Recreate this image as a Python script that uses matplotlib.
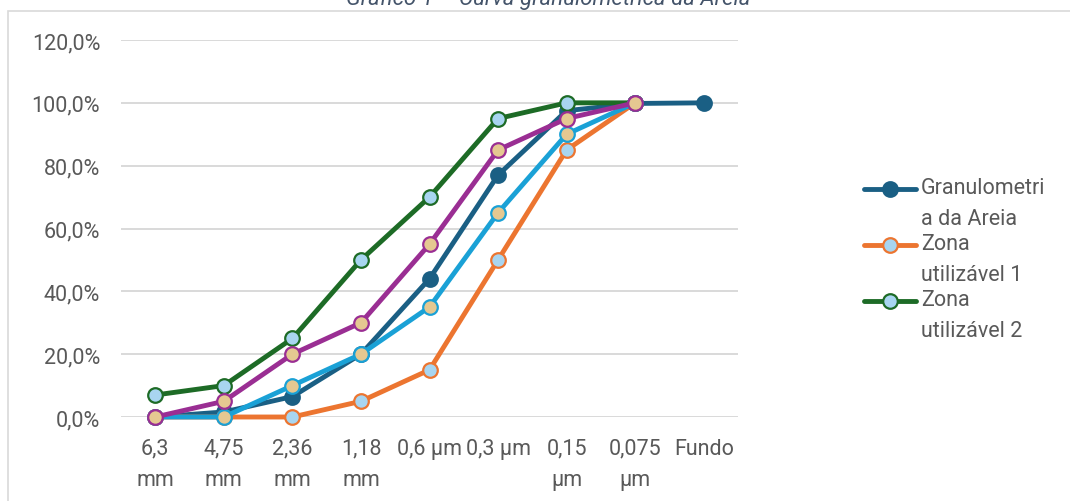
import matplotlib
matplotlib.use("Agg")
import matplotlib.pyplot as plt
from matplotlib.lines import Line2D
from matplotlib.patches import Rectangle
from matplotlib.ticker import FuncFormatter

# Sieve openings (x categories)
categories = ["6,3\nmm", "4,75\nmm", "2,36\nmm", "1,18\nmm", "0,6 µm",
              "0,3 µm", "0,15\nµm", "0,075\nµm", "Fundo"]

# Cumulative % retained
granulometria = [0.0, 1.6, 6.5, 20.0, 44.0, 77.0, 97.5, 99.8, 100.0]
zona_util_1 = [0.0, 0.0, 0.0, 5.0, 15.0, 50.0, 85.0, 100.0]
zona_util_2 = [7.0, 10.0, 25.0, 50.0, 70.0, 95.0, 100.0, 100.0]
zona_otima_1 = [0.0, 0.0, 10.0, 20.0, 35.0, 65.0, 90.0, 100.0]
zona_otima_2 = [0.0, 5.0, 20.0, 30.0, 55.0, 85.0, 95.0, 100.0]

yticks = [0, 20, 40, 60, 80, 100, 120]

TEXT = "#595959"
GRID = "#D9D9D9"
LIGHTBLUE = "#A8D5F0"
TAN = "#E5C891"
FS = 15.5

plt.rcParams["font.family"] = ["Roboto", "DejaVu Sans"]

fig = plt.figure(figsize=(10.70, 5.02), dpi=100)
ax = fig.add_axes([121 / 1070, (502 - 418) / 502, 617 / 1070, 377 / 502])

# chart border (box runs off the right and bottom edges)
fig.patches.append(Rectangle((8 / 1070, -0.05), 1.2, 1 - 12 / 502 + 0.05,
                             transform=fig.transFigure, fill=False,
                             edgecolor="#D9D9D9", linewidth=1.2, zorder=0))
fig.text(548 / 1070, 1 - 5 / 502, "Gráfico 1 – Curva granulométrica da Areia",
         ha="center", va="baseline", fontsize=16, style="italic", color="#44546A")

series = [
    ("Granulometria da Areia", granulometria, "#1A5F84", "#1A5F84"),
    ("Zona utilizável 1", zona_util_1, "#EC7530", LIGHTBLUE),
    ("Zona utilizável 2", zona_util_2, "#1D6B26", LIGHTBLUE),
    ("Zona ótima 1", zona_otima_1, "#1AA1D6", TAN),
    ("Zona ótima 2", zona_otima_2, "#9A2E93", TAN),
]

for i, (name, vals, color, face) in enumerate(series):
    x = list(range(len(vals)))
    ax.plot(x, vals, color=color, linewidth=3.5, marker="o", markersize=10.5,
            markerfacecolor=face, markeredgecolor=color, markeredgewidth=1.6,
            solid_capstyle="round", clip_on=False, zorder=3 + i, label=name)

ax.set_xlim(-0.5, len(categories) - 0.5)
ax.set_ylim(0, 120)
ax.set_yticks(yticks)
ax.yaxis.set_major_formatter(FuncFormatter(lambda v, p: f"{v:.1f}%".replace(".", ",")))
ax.set_xticks(range(len(categories)))
ax.set_xticklabels(categories, linespacing=1.65, va="top")
ax.tick_params(axis="both", length=0, labelsize=FS, labelcolor=TEXT)
ax.tick_params(axis="x", pad=15)
ax.tick_params(axis="y", pad=15)
ax.grid(axis="y", color=GRID, linewidth=1.4)
ax.set_axisbelow(True)
for s in ax.spines.values():
    s.set_visible(False)

# legend (only the first three entries are visible in the original)
leg_y = [190, 246, 302]
leg_labels = ["Granulometri\na da Areia", "Zona\nutilizável 1", "Zona\nutilizável 2"]
for (name, vals, color, face), y, lab in zip(series[:3], leg_y, leg_labels):
    fy = 1 - y / 502
    fig.add_artist(Line2D([864 / 1070, 916 / 1070], [fy, fy], transform=fig.transFigure,
                          color=color, linewidth=3.5, solid_capstyle="round"))
    fig.add_artist(Line2D([890 / 1070], [fy], transform=fig.transFigure, marker="o",
                          markersize=10.5, markerfacecolor=face, markeredgecolor=color,
                          markeredgewidth=1.6, linestyle="none"))
    fig.text(921 / 1070, 1 - (y - 12) / 502, lab, ha="left", va="top", fontsize=FS,
             color=TEXT, linespacing=1.65)

fig.savefig("out.png", dpi=100)
